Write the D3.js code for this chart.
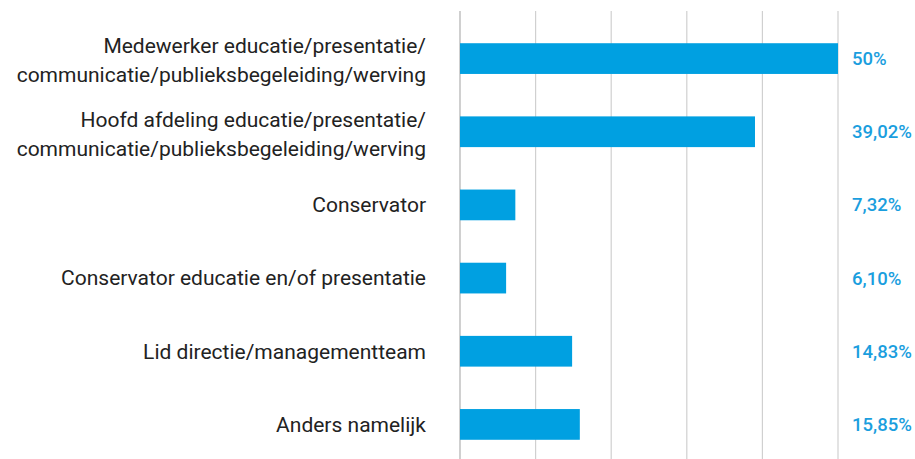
<!DOCTYPE html>
<html>
<head>
<meta charset="utf-8">
<script src="https://cdn.jsdelivr.net/npm/d3@7"></script>
<style>
  body { margin: 0; background: #fff; }
  svg { display: block; font-family: Roboto, sans-serif; }
</style>
</head>
<body>
<div id="app"></div>
<script>
var categories = [
    ['Medewerker educatie/presentatie/', 'communicatie/publieksbegeleiding/werving'],
    ['Hoofd afdeling educatie/presentatie/', 'communicatie/publieksbegeleiding/werving'],
    ['Conservator'],
    ['Conservator educatie en/of presentatie'],
    ['Lid directie/managementteam'],
    ['Anders namelijk']
];
var values = [50, 39.02, 7.32, 6.10, 14.83, 15.85];
var valueLabels = ['50%', '39,02%', '7,32%', '6,10%', '14,83%', '15,85%'];
var gridTicks = [0, 10, 20, 30, 40, 50];

var width = 915,
    height = 459;

var svg = d3.select('#app')
    .append('svg')
    .attr('width', width)
    .attr('height', height);

var xScale = d3.scaleLinear().domain([0, 50]).range([460, 838]);

var yScale = d3.scaleBand()
    .domain(d3.range(categories.length))
    .range([22, 461])
    .paddingInner(0.58)
    .paddingOuter(0.29);

// vertical grid lines
svg.append('g')
    .selectAll('line')
    .data(gridTicks)
    .enter()
    .append('line')
    .attr('x1', d => xScale(d))
    .attr('x2', d => xScale(d))
    .attr('y1', 11)
    .attr('y2', height)
    .attr('stroke', d => d === 0 ? '#c4c4c4' : '#d0d0d0')
    .attr('stroke-width', d => d === 0 ? 1.6 : 1.2);

svg.append('g')
    .selectAll('rect')
    .data(values)
    .enter()
    .append('rect')
    .attr('x', xScale(0))
    .attr('y', (d, i) => yScale(i))
    .attr('width', d => xScale(d) - xScale(0))
    .attr('height', yScale.bandwidth())
    .attr('fill', '#00a0e1');

// category labels
var labels = svg.append('g')
    .selectAll('text')
    .data(categories)
    .enter()
    .append('text')
    .attr('text-anchor', 'end')
    .attr('fill', '#222')
    .style('font-size', '21px');

labels.each(function (lines, i) {
    var cy = yScale(i) + yScale.bandwidth() / 2;
    var lineH = 29;
    var start = cy - (lines.length - 1) * lineH / 2 + (lines.length > 1 ? 2 : 0);
    d3.select(this).selectAll('tspan')
        .data(lines)
        .enter()
        .append('tspan')
        .attr('x', 426)
        .attr('y', (d, j) => start + j * lineH)
        .attr('dy', '0.35em')
        .text(d => d);
});

// value labels
svg.append('g')
    .selectAll('text')
    .data(valueLabels)
    .enter()
    .append('text')
    .attr('x', 852)
    .attr('y', (d, i) => yScale(i) + yScale.bandwidth() / 2)
    .attr('dy', '0.35em')
    .attr('fill', '#1a9ede')
    .style('font-size', '18.5px')
    .style('font-weight', 500)
    .text(d => d);
</script>
</body>
</html>
